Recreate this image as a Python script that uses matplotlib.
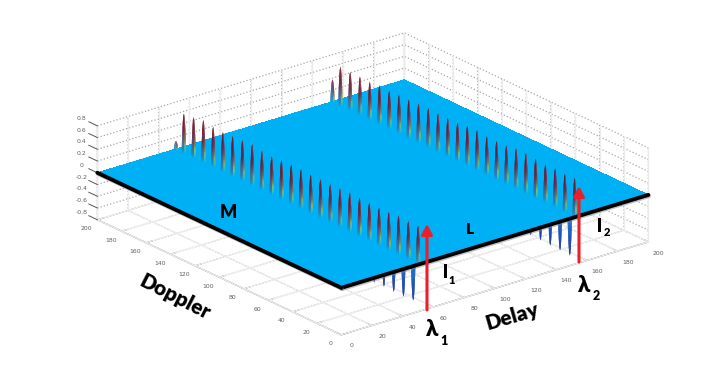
import numpy as np
import matplotlib
matplotlib.use('Agg')
import matplotlib.pyplot as plt
import matplotlib.patheffects as pe
from matplotlib.colors import LinearSegmentedColormap
from matplotlib.patches import FancyArrowPatch
from mpl_toolkits.mplot3d import proj3d

W, H = 722, 378

# values
delay_ticks = list(range(0, 201, 20))
doppler_ticks = list(range(0, 201, 20))
z_ticks = [-0.8, -0.6, -0.4, -0.2, 0, 0.2, 0.4, 0.6, 0.8]
z_labels = ['-0.8', '-0.6', '-0.4', '-0.2', '0', '0.2', '0.4', '0.6', '0.8']

row_delays = [50, 152]
peak_doppler = list(range(0, 193, 8))
row_m_peaks = [.66, .66, .68, .66, .65, .66, .67, .68, .67, .66, .67, .67, .68,
               .68, .68, .67, .68, .72, .71, .70, .69, .70, .74, .71, .69]
row_l_peaks = [.67, .66, .67, .66, .68, .70, .70, .67, .67, .67, .70, .70, .67,
               .67, .67, .68, .68, .67, .67, .66, .68, .66, .67, .67, .68]
edge_doppler = [198.5, 199]
edge_peaks = [.16, .40]
dip_doppler = [4, 12, 20, 28, 36, 44]
row_m_dips = [-.65, -.66, -.66, -.65, -.66, -.66]
row_l_dips = [-.69, -.68, -.68, -.67, -.66, -.66]

plate = '#00b0f5'
up_left = LinearSegmentedColormap.from_list('up_left', [(0, plate), (.1, '#2a86b8'), (.3, '#4a5f85'),
                                                        (.5, '#642a46'), (.75, '#6e0c1e'), (1, '#78081a')])
up_right = LinearSegmentedColormap.from_list('up_right', [(0, plate), (.08, '#30c8c0'), (.2, '#98c060'),
                                                          (.35, '#8a7048'), (.6, '#7a2a40'), (1, '#a85060')])
down = LinearSegmentedColormap.from_list('down', [(0, '#1f78d8'), (.5, '#1450b8'), (1, '#0c2a90')])

fig = plt.figure(figsize=(W / 100, H / 100), dpi=100)
side = 900
cx, cy = 360.7, 196
ax = fig.add_axes([(cx - side / 2) / W, (H - cy - side / 2) / H, side / W, side / H],
                  projection='3d', proj_type='ortho', computed_zorder=False)
ax.patch.set_alpha(0)
ax.view_init(elev=22.2, azim=-128.7)
ax.set_xlim(0, 200, view_margin=0)
ax.set_ylim(0, 200, view_margin=0)
ax.set_zlim(-0.8, 0.8, view_margin=0)
aspect = (393.6, 390.4, 101.5)
ax.set_box_aspect(aspect, zoom=1)


def to_px(x, y, z):
    xs, ys, _ = proj3d.proj_transform(x, y, z, ax.get_proj())
    return ax.transData.transform((xs, ys))


# scale so the plate spans the same width as the reference
fig.canvas.draw()
span = to_px(200, 0, 0)[0] - to_px(0, 200, 0)[0]
ax.set_box_aspect(aspect, zoom=551 / span)

ax.set_xticks(delay_ticks)
ax.set_yticks(doppler_ticks)
ax.set_zticks(z_ticks)
ax.zaxis.set_major_formatter(plt.NullFormatter())
for axis in (ax.xaxis, ax.yaxis, ax.zaxis):
    axis.set_pane_color((1, 1, 1, 1))
    axis.pane.set_edgecolor('none')
    axis._axinfo['grid'].update(color='#a8a8a8', linestyle=':', linewidth=0.9)
    axis._axinfo['tick'].update(inward_factor=0, outward_factor=0.25, linewidth={True: .7, False: .7})
    axis._axinfo['tick']['color'] = '#555555'
    axis.line.set_color('#6a6a6a')
    axis.line.set_linewidth(0.8)
ax.zaxis._axinfo['tick'].update(outward_factor=0)
ax.tick_params(axis='x', labelsize=4.4, labelcolor='#606060', colors='#555555', pad=6)
ax.tick_params(axis='y', labelsize=4.4, labelcolor='#606060', colors='#555555', pad=4)
ax.zaxis.set_ticks_position('upper')

# z ticks point along the doppler direction in the reference
for z, s in zip(z_ticks, z_labels):
    ax.plot([0, 0], [200, 207], [z, z], color='#555555', lw=0.7, zorder=0.6)
    px = to_px(0, 213, z)
    fig.text(px[0] / W, px[1] / H, s, fontsize=4.4, color='#606060', ha='center', va='center')

# faint solid lines under the dotted grid
faint = dict(color='#ececec', lw=1.0, zorder=0.5)
for t in delay_ticks:
    ax.plot([t, t], [200, 200], [-0.8, 0.8], **faint)
    ax.plot([t, t], [0, 200], [-0.8, -0.8], **faint)
for t in doppler_ticks:
    ax.plot([200, 200], [t, t], [-0.8, 0.8], **faint)
    ax.plot([0, 200], [t, t], [-0.8, -0.8], **faint)

# flat plate at z = 0
gx, gy = np.meshgrid([0, 200], [0, 200])
ax.plot_surface(gx, gy, np.zeros_like(gx, dtype=float), color=plate, shade=False, linewidth=0,
                antialiased=False, zorder=3)

R = 1.2
theta = np.linspace(0, 2 * np.pi, 13)
levels = np.linspace(0, 1, 19)


def spike(d0, D, h, zorder):
    rad = R * np.sqrt(1 - levels)
    X = d0 + np.outer(rad, np.cos(theta))
    Y = D + np.outer(rad, np.sin(theta))
    Z = h * np.outer(levels, np.ones_like(theta))
    cols = np.zeros((len(levels), len(theta), 4))
    for i, t in enumerate(levels):
        for j, th in enumerate(theta):
            if h < 0:
                cols[i, j] = down(t)
            elif np.cos(th - 1.9) < -0.6:
                cols[i, j] = up_right(t)
            else:
                cols[i, j] = up_left(t * abs(h) / 0.72)
    ax.plot_surface(X, Y, Z, facecolors=cols, shade=False, rstride=1, cstride=1,
                    linewidth=0, antialiased=True, zorder=zorder)


for d0, dips in zip(row_delays, [row_m_dips, row_l_dips]):
    for D, h in zip(dip_doppler, dips):
        spike(d0, D, h, 2)

order = 4
for d0, peaks, ep in [(row_delays[1], row_l_peaks, edge_peaks[1]), (row_delays[0], row_m_peaks, edge_peaks[0])]:
    for D, h in sorted(zip(peak_doppler + [edge_doppler[0]], peaks + [ep]), reverse=True):
        spike(d0, D, h, order)
        order += 0.01

shadow = [pe.SimpleLineShadow(offset=(0.6, -0.9), shadow_color='#888888', alpha=0.5), pe.Normal()]
ax.plot([0, 200], [0, 0], [0, 0], color='black', lw=2.8, solid_capstyle='round', zorder=6, path_effects=shadow)
ax.plot([0, 0], [0, 200], [0, 0], color='black', lw=2.8, solid_capstyle='round', zorder=6, path_effects=shadow)


def arrow(x, y0, y1):
    fig.add_artist(FancyArrowPatch((x / W, 1 - y0 / H), (x / W, 1 - y1 / H), transform=fig.transFigure,
                                   arrowstyle='-|>,head_width=3.2,head_length=6', color='#e8202a', lw=2.2,
                                   shrinkA=0, shrinkB=0, mutation_scale=1.0, zorder=7))


arrow(427, 310, 224)
arrow(579, 262, 186)


def label(x, y, s, size, rot=0):
    fig.text(x / W, 1 - y / H, s, fontsize=size, fontweight='heavy', rotation=rot, rotation_mode='anchor',
             ha='center', va='center', family=['Lato', 'Noto Sans', 'DejaVu Sans'], color='black', zorder=8)


label(228, 212, 'M', 13)
label(470, 230, 'L', 11)
label(175, 297, 'Doppler', 15, -27)
label(512, 316, 'Delay', 15, 16)
label(445, 273, 'l', 14)
label(452, 281, '1', 8)
label(600, 226, 'l', 14)
label(607, 233, '2', 8)
label(432, 330, 'λ', 16)
label(444, 341, '1', 9)
label(584, 285, 'λ', 16)
label(596, 296, '2', 9)

fig.savefig('out.png', dpi=100)
